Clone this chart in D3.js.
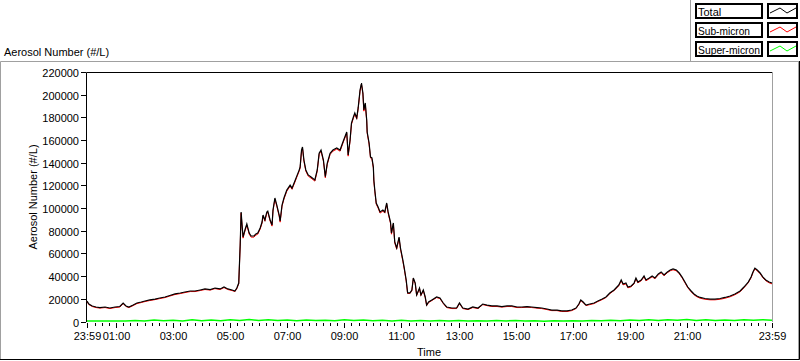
<!DOCTYPE html>
<html><head><meta charset="utf-8">
<script src="https://cdn.jsdelivr.net/npm/d3@7"></script>
<style>
body{margin:0;background:#fff;}
svg{display:block;}
text{font-family:"Liberation Sans",Arial,sans-serif;fill:#000;}
</style>
</head><body>
<svg id="c" width="800" height="361"></svg>
<script>
// minutes since midnight (-1 = 23:59 of previous day)
const minutes = [-1,3,10,18,26,37,47,58,68,75,81,87,96,104,113,121,131,142,152,163,173,184,195,205,216,226,237,247,258,268,279,287,295,304,310,314,318,
321,323,325,327,331,335,340,344,350,354,358,363,367,369,373,377,379,384,388,390,394,398,403,405,409,413,419,426,430,436,440,445,447,450,452,455,459,464,470,478,483,487,491,496,500,504,510,516,524,531,537,545,548,552,555,559,562,566,569,573,576,579,581,584,587,588,592,595,598,601,602,604,607,611,615,621,625,629,632,637,639,643,646,650,655,658,663,666,670,
673,678,682,685,689,692,698,701,706,710,713,717,724,734,741,748,755,766,776,782,789,800,810,821,831,840,850,861,871,882,892,903,913,924,934,945,955,966,976,987,997,1008,1018,1027,1033,1037,1042,1048,1056,1065,1073,1082,1090,1098,1107,
1113,1117,1122,1126,1132,1136,1143,1149,1153,1157,1164,1170,1174,1181,1187,1193,1200,1206,1212,1219,1225,1231,1238,1244,1250,1256,1262,1269,1275,1281,1288,1298,1309,1319,1330,1340,1351,1361,1372,1380,1389,1395,1399,1403,1408,1414,1420,1426,1433,1439];

const total = [18000,15400,13700,12800,12300,12800,11900,12800,13200,16300,13700,12800,14500,16300,17200,18100,19000,19800,20700,21600,22900,24300,25100,26000,26900,26900,27800,28700,28200,29500,28700,30400,28700,27800,26900,29500,33900,
67500,96600,85100,74500,80700,86000,78000,75400,75400,77200,78000,82400,87700,93900,89500,96600,97400,89500,85100,98300,108900,102700,93900,88600,102700,108900,115900,120300,117600,123800,128200,133500,136200,151200,153900,142400,133600,129200,127400,124800,133600,148300,151200,142400,127700,139500,148300,151200,153000,151200,158300,167100,146800,160000,175000,180300,183900,179500,188300,204100,210300,201500,186500,192700,177700,167100,157400,145100,144200,136200,124800,115900,104500,101000,96600,98300,96600,104500,96600,87700,78000,86900,70100,64800,74500,64800,54200,47100,36600,
25200,25200,27800,38400,33900,23400,29500,23400,27800,21600,14500,17200,19000,21600,20700,16300,12800,11900,11900,16300,11900,11000,12800,11900,15400,14500,13700,13700,13200,13700,13700,12800,12800,13200,12800,12300,11900,11000,10100,10100,9300,9300,10100,11900,15400,19000,17200,14500,15400,16300,18100,19800,21600,25100,27800,
30400,32200,36600,33000,33900,30400,31300,33900,38400,34800,36600,40100,36600,38400,40100,38400,41900,43700,41000,43700,45400,46300,45400,42800,39200,34800,30400,26900,24300,22500,21200,20300,19800,19800,20300,21200,22500,24300,26900,30400,34800,39200,43700,47100,45400,42800,39200,36600,34800,33900];

const subMicron = [17500,14900,13200,12300,11800,12300,11400,12300,12700,15800,13200,12300,14000,15800,16700,17600,18500,19300,20200,21100,22400,23800,24600,25500,26400,26400,27300,28200,27700,29000,28200,29900,28200,27300,26400,29000,33400,
66500,95600,84100,73500,79700,85000,77000,74400,74400,76200,77000,81400,86700,92900,88500,95600,96400,88500,84100,97300,107900,101700,92900,87600,101700,107900,114900,119300,116600,122800,127200,132500,135200,150200,152900,141400,132600,128200,126400,123800,132600,147300,150200,141400,126700,138500,147300,150200,152000,150200,157300,166100,145800,159000,174000,179300,182900,178500,187300,203100,209300,200500,185500,191700,176700,166100,156400,144100,143200,135200,123800,114900,103500,100000,95600,97300,95600,103500,95600,86700,77000,85900,69100,63800,73500,63800,53200,46100,35600,
24700,24700,27300,37900,33400,22900,29000,22900,27300,21100,14000,16700,18500,21100,20200,15800,12300,11400,11400,15800,11400,10500,12300,11400,14900,14000,13200,13200,12700,13200,13200,12300,12300,12700,12300,11800,11400,10500,9600,9600,8800,8800,9600,11400,14900,18500,16700,14000,14900,15800,17600,19300,21100,24600,27300,
29700,31500,35900,32300,33200,29700,30600,33200,37700,34100,35900,39400,35900,37700,39400,37700,41200,43000,40300,43000,44700,45600,44700,42100,38500,34100,29700,26200,23600,21800,20500,19600,19100,19100,19600,20500,21800,23600,26200,29700,34100,38500,43000,46400,44700,42100,38500,35900,34100,33200];

const superMinutes = [-1,20,40,60,80,100,120,140,160,180,200,220,240,260,280,300,320,340,360,380,400,420,440,460,480,500,520,540,560,580,600,620,640,660,680,700,720,740,760,780,800,820,840,860,880,900,920,940,960,980,1000,1020,1040,1060,1080,1100,1120,1140,1160,1180,1200,1220,1240,1260,1280,1300,1320,1340,1360,1380,1400,1420,1439];
const superMicron = [400,400,350,400,450,900,500,1400,600,1200,500,1500,700,1300,600,1600,800,1700,900,1500,800,1400,700,1300,900,1200,600,1500,800,1300,700,1100,500,1000,400,900,500,800,400,900,500,700,400,800,500,900,400,700,300,600,400,700,500,900,600,1100,700,1300,800,1500,900,1600,1000,1700,900,1500,800,1400,900,1600,1000,1500,1200];

const yTicks = [0,20000,40000,60000,80000,100000,120000,140000,160000,180000,200000,220000];
const xLabelTicks = [-1,60,180,300,420,540,660,780,900,1020,1140,1260,1439];
const xLabels = ["23:59","01:00","03:00","05:00","07:00","09:00","11:00","13:00","15:00","17:00","19:00","21:00","23:59"];
const seriesNames = ["Total","Sub-micron","Super-micron"];
const seriesColors = ["#000000","#ff0000","#00ff00"];

const svg = d3.select("#c");
const x = d3.scaleLinear().domain([-1,1439]).range([87,772]);
const y = d3.scaleLinear().domain([0,220000]).range([321.5,72]);

// outer frame
svg.append("path").attr("d","M0.5,360 V61.5 H798").attr("fill","none").attr("stroke","#a0a0a0");
svg.append("path").attr("d","M798.5,61 V359").attr("fill","none").attr("stroke","#a0a0a0");
svg.append("path").attr("d","M0,359.5 H799.5 V61").attr("fill","none").attr("stroke","#000");
// legend frame
svg.append("path").attr("d","M690.5,0 V61").attr("fill","none").attr("stroke","#a0a0a0");

// legend
seriesNames.forEach((name,i)=>{
  const top = 3 + i*19;
  const g = svg.append("g");
  g.append("rect").attr("x",695.5).attr("y",top+0.5).attr("width",67).attr("height",15).attr("fill","#fff").attr("stroke","#000");
  g.append("rect").attr("x",696.5).attr("y",top+1.5).attr("width",65).attr("height",13).attr("fill","none").attr("stroke","#000");
  g.append("text").attr("x",698).attr("y",top+12.5).attr("font-size","11px")
    .attr("textLength", name.length>6 ? 62 : null).attr("lengthAdjust","spacingAndGlyphs").text(name);
  g.append("rect").attr("x",767.5).attr("y",top+0.5).attr("width",30).attr("height",15).attr("fill","#fff").attr("stroke","#000");
  g.append("rect").attr("x",768.5).attr("y",top+1.5).attr("width",28).attr("height",13).attr("fill","none").attr("stroke","#000");
  g.append("path").attr("d",`M770,${top+10} L780,${top+5} L787,${top+10} L796,${top+5}`)
   .attr("fill","none").attr("stroke",seriesColors[i]).attr("stroke-width",1);
});
// fix textLength for Sub-micron (shorter)
svg.selectAll("text").filter(function(){return d3.select(this).text()==="Sub-micron";}).attr("textLength",52);

// titles
svg.append("text").attr("x",4).attr("y",56).attr("font-size","11px").text("Aerosol Number (#/L)");
svg.append("text").attr("transform","translate(37,197) rotate(-90)").attr("text-anchor","middle").attr("font-size","11px").text("Aerosol Number (#/L)");
svg.append("text").attr("x",429).attr("y",356).attr("text-anchor","middle").attr("font-size","11px").text("Time");

// y axis
const yg = svg.append("g");
yTicks.forEach(v=>{
  const yy = Math.round(y(v))+0.5;
  yg.append("line").attr("x1",81).attr("x2",86).attr("y1",yy).attr("y2",yy).attr("stroke","#000");
  yg.append("text").attr("x",79).attr("y",yy+4).attr("text-anchor","end").attr("font-size","11px").text(v);
});

// x axis ticks
const xg = svg.append("g");
const minorTicks = d3.range(0,1440,15);
minorTicks.forEach(m=>{
  const xx = Math.round(x(m))+0.5;
  const major = xLabelTicks.includes(m);
  xg.append("line").attr("x1",xx).attr("x2",xx).attr("y1",323).attr("y2",major?328:326).attr("stroke","#000");
});
xLabelTicks.forEach((m,i)=>{
  const xx = Math.round(x(m))+0.5;
  xg.append("line").attr("x1",xx).attr("x2",xx).attr("y1",323).attr("y2",328).attr("stroke","#000");
  xg.append("text").attr("x",xx).attr("y",340).attr("text-anchor","middle").attr("font-size","11px").text(xLabels[i]);
});

// plot frame
svg.append("path").attr("d","M86.5,322 V72.5 H772").attr("fill","none").attr("stroke","#000");
svg.append("path").attr("d","M772.5,72 V322").attr("fill","none").attr("stroke","#a0a0a0");

// series
const line = d3.line().x(d=>x(d[0])).y(d=>y(d[1]));
const n1 = Math.min(minutes.length,total.length,subMicron.length);
const subData = d3.range(n1).map(i=>[minutes[i],subMicron[i]]);
const totData = d3.range(n1).map(i=>[minutes[i],total[i]]);
const n2 = Math.min(superMinutes.length,superMicron.length);
const supData = d3.range(n2).map(i=>[superMinutes[i],superMicron[i]]);

svg.append("path").datum(supData).attr("d",line).attr("fill","none").attr("stroke",seriesColors[2]).attr("stroke-width",1.5);
svg.append("path").datum(subData).attr("d",line).attr("fill","none").attr("stroke",seriesColors[1]).attr("stroke-width",1);
svg.append("path").datum(totData).attr("d",line).attr("fill","none").attr("stroke",seriesColors[0]).attr("stroke-width",1.2);
</script>
</body></html>
